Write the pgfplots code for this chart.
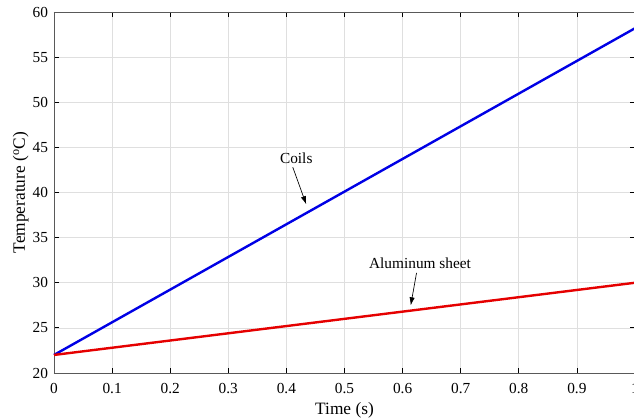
\documentclass[border=0pt]{standalone}
\usepackage{pgfplots}
\pgfplotsset{compat=1.18}
\usetikzlibrary{arrows.meta}
\usepackage{fontspec}
\setmainfont{Liberation Serif}
\begin{document}
\begin{tikzpicture}[x=1pt,y=1pt]
\begin{axis}[
  name=ax,
  scale only axis,
  width=435.75pt, height=270.75pt,
  xmin=0, xmax=1, ymin=20, ymax=60,
  xtick={0,0.1,...,1.0}, ytick={20,25,...,60},
  xticklabels={0,0.1,0.2,0.3,0.4,0.5,0.6,0.7,0.8,0.9,1},
  /pgf/number format/assume math mode=true,
  tick label style={font=\fontsize{11.5}{13}\selectfont},
  xticklabel style={yshift=-4pt},
  yticklabel style={xshift=-1pt},
  label style={font=\fontsize{13}{15}\selectfont},
  xlabel={Time (s)}, ylabel={Temperature ($^{\mathrm{o}}$C)},
  xlabel style={at={(axis description cs:0.5,0)}, anchor=base, yshift=-30.75pt},
  ylabel style={at={(axis description cs:0,0.5)}, anchor=base, yshift=21.75pt},
  tick align=inside, tick pos=both,
  major tick length=4pt,
  axis line style={gray!70!black, line width=0.6pt},
  every tick/.style={black, line width=0.6pt},
  grid=major,
  major grid style={gray!25, line width=0.5pt},
  clip=false,
]
  % temperature rise of the coils and the aluminium sheet
  \addplot[blue!90!black, line width=1.8pt] coordinates {(0,22) (1,58.2)};
  \addplot[red!90!black, line width=1.8pt] coordinates {(0,22) (1,30)};
  \node[font=\fontsize{11.5}{13}\selectfont] at (axis cs:0.417,43.8) {Coils};
  \draw[-{Latex[length=6pt,width=4pt]}, line width=0.5pt] (axis cs:0.411,42.8) -- (axis cs:0.434,38.7);
  \node[font=\fontsize{11.5}{13}\selectfont] at (axis cs:0.63,32.2) {Aluminum sheet};
  \draw[-{Latex[length=6pt,width=4pt]}, line width=0.5pt] (axis cs:0.624,31.1) -- (axis cs:0.614,27.5);
\end{axis}
\pgfresetboundingbox
\path ([xshift=-40.5pt,yshift=-35.25pt]ax.south west) rectangle ([xshift=-0.75pt,yshift=9pt]ax.north east);
\end{tikzpicture}
\end{document}
